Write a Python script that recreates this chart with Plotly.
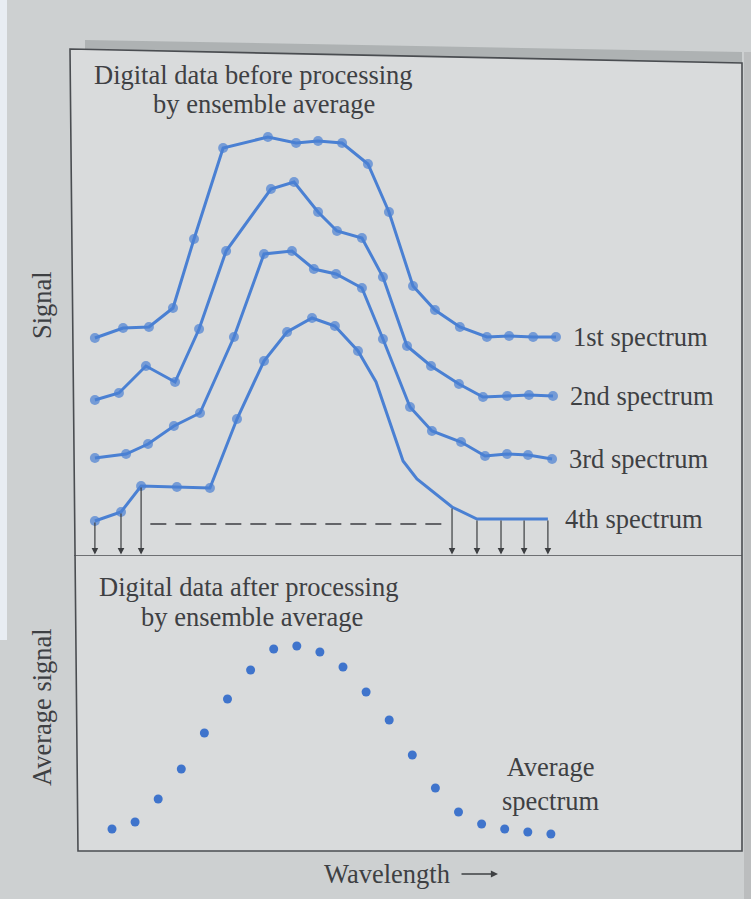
import plotly.graph_objects as go

W, H = 751, 899

# ---- data (wavelength index, signal in arbitrary units) ----
s1_x = [-0.74, 0.48, 1.60, 2.64, 3.55, 4.81, 6.75, 7.97, 8.92, 9.96, 11.08, 11.99, 13.03, 13.98, 15.06, 16.23, 17.19, 18.23, 19.22]
s1_y = [21.8, 22.8, 22.9, 24.8, 31.7, 40.8, 41.9, 41.3, 41.5, 41.3, 39.2, 34.4, 27.0, 24.6, 22.9, 21.9, 22.0, 21.9, 21.9]

s2_x = [-0.74, 0.30, 1.47, 2.73, 3.77, 4.94, 6.88, 7.88, 8.92, 9.74, 10.82, 11.73, 12.77, 13.81, 15.02, 16.06, 17.10, 18.05, 19.09]
s2_y = [15.6, 16.3, 19.0, 17.4, 22.7, 30.5, 36.7, 37.4, 34.4, 32.5, 31.8, 27.9, 21.0, 19.0, 17.2, 15.9, 16.0, 16.1, 16.0]

s3_x = [-0.74, 0.61, 1.56, 2.68, 3.81, 5.28, 6.58, 7.79, 8.74, 9.70, 10.82, 11.73, 12.90, 13.85, 15.11, 16.15, 17.10, 18.01, 19.05]
s3_y = [9.8, 10.2, 11.2, 13.0, 14.3, 21.9, 30.2, 30.5, 28.7, 28.2, 26.8, 21.7, 14.9, 12.5, 11.4, 10.0, 10.2, 10.1, 9.7]

s4_x = [-0.74, 0.39, 1.26, 2.81, 4.24, 5.41, 6.58, 7.58, 8.66, 9.65, 10.65, 11.43, 12.60, 13.20, 14.72, 15.80, 16.84, 17.84, 18.87]
s4_y = [3.5, 4.4, 7.0, 6.9, 6.8, 13.7, 19.5, 22.4, 23.8, 23.0, 20.5, 17.4, 9.5, 7.7, 4.9, 3.7, 3.7, 3.7, 3.7]
s4_dotted = [True] * 11 + [False] * 8          # only the first points carry dots
s4_sampled = [0, 1, 2, 14, 15, 16, 17, 18]      # points with sampling arrows

avg_x = list(range(20))
avg_y = [2.2, 2.9, 5.2, 8.2, 11.8, 15.2, 18.1, 20.2, 20.5, 19.9,
         18.4, 15.9, 13.1, 9.6, 6.3, 3.9, 2.7, 2.2, 1.9, 1.7]

spectra_labels = ["1st spectrum", "2nd spectrum", "3rd spectrum", "4th spectrum"]
top_title = ["Digital data before processing", "by ensemble average"]
bottom_title = ["Digital data after processing", "by ensemble average"]
avg_label = "Average<br>spectrum"
x_title = "Wavelength"
y_title_top = "Signal"
y_title_bottom = "Average signal"

# ---- styling ----
BLUE = "#4a80d3"
DOT = "#3f74cc"
INK = "#3e4043"
FONT = "Liberation Serif, Times New Roman, serif"
FS = 26.5


def px(x):
    return x / W


def py(y):
    return 1 - y / H


fig = go.Figure()

series = [(s1_x, s1_y, None), (s2_x, s2_y, None), (s3_x, s3_y, None), (s4_x, s4_y, s4_dotted)]
for (xs, ys, dotted), lab in zip(series, spectra_labels):
    flags = dotted if dotted is not None else [True] * len(xs)
    sizes = [10 if d else 0 for d in flags]
    fig.add_trace(go.Scatter(
        x=xs, y=ys, mode="lines+markers", name=lab,
        line=dict(color=BLUE, width=3),
        marker=dict(color=BLUE, size=sizes, line=dict(width=0)),
        xaxis="x", yaxis="y", showlegend=False, hoverinfo="skip"))
    fig.add_annotation(x=xs[-1], y=ys[-1], xref="x", yref="y", text=lab,
                       showarrow=False, xanchor="left", yanchor="middle", xshift=15,
                       font=dict(family=FONT, size=FS, color=INK))

fig.add_trace(go.Scatter(
    x=avg_x, y=avg_y, mode="markers", name="Average spectrum",
    marker=dict(color=DOT, size=9, line=dict(width=0)),
    xaxis="x", yaxis="y2", showlegend=False, hoverinfo="skip"))
fig.add_annotation(x=avg_x[-1], y=avg_y[-1], xref="x", yref="y2", text=avg_label,
                   showarrow=False, yshift=50, xanchor="center", yanchor="middle",
                   font=dict(family=FONT, size=FS, color=INK))

# sampling arrows of the 4th spectrum
for i in s4_sampled:
    fig.add_annotation(x=s4_x[i], y=0.15, ax=s4_x[i], ay=s4_y[i],
                       xref="x", yref="y", axref="x", ayref="y",
                       text="", showarrow=True, arrowhead=2, arrowsize=1.1,
                       arrowwidth=1.2, arrowcolor="#3c3e41", standoff=0, startstandoff=0)


# titles
def note(x, y, text, xanchor="center", **kw):
    fig.add_annotation(x=px(x), y=py(y), xref="paper", yref="paper", text=text,
                       showarrow=False, xanchor=xanchor, yanchor="middle",
                       font=dict(family=FONT, size=FS, color=INK), **kw)


note(92, 75, top_title[0], xanchor="left")
note(151, 104, top_title[1], xanchor="left")
note(97, 587, bottom_title[0], xanchor="left")
note(139, 617, bottom_title[1], xanchor="left")
note(42, 305, y_title_top, textangle=-90)
note(42, 707, y_title_bottom, textangle=-90)
note(322, 874, x_title, xanchor="left")
fig.add_annotation(x=px(498), y=py(874), ax=-38, ay=0,
                   xref="paper", yref="paper", axref="pixel", ayref="pixel",
                   text="", showarrow=True, arrowhead=2, arrowsize=1.1, arrowwidth=1.3,
                   arrowcolor=INK, standoff=0)

shapes = []
# white strip at the far left of the photo
shapes.append(dict(type="rect", xref="paper", yref="paper", x0=0, x1=px(7), y0=py(640), y1=1,
                   fillcolor="#e8edf3", line=dict(width=0), layer="below"))
# shadow above the top edge
shapes.append(dict(type="path", xref="paper", yref="paper",
                   path=f"M {px(85)} {py(40)} L {px(742)} {py(52)} L {px(742)} {py(63)} L {px(85)} {py(49)} Z",
                   fillcolor="rgba(95,100,100,0.28)", line=dict(width=0), layer="below"))
# right dark strip
shapes.append(dict(type="rect", xref="paper", yref="paper", x0=px(744), x1=1, y0=0, y1=py(52),
                   fillcolor="#bbbdbe", line=dict(width=0), layer="below"))
# inner page area + frame
frame = f"M {px(70)} {py(49)} L {px(742)} {py(63)} L {px(742)} {py(851)} L {px(78)} {py(851)} Z"
shapes.append(dict(type="path", xref="paper", yref="paper", path=frame,
                   fillcolor="#d9dbdc", line=dict(width=0), layer="below"))
shapes.append(dict(type="path", xref="paper", yref="paper", path=frame,
                   fillcolor="rgba(0,0,0,0)", line=dict(color="#4a4d51", width=1.6), layer="above"))
# divider between the two panels (baseline of the top panel)
shapes.append(dict(type="line", xref="paper", yref="y", x0=px(74), x1=px(742), y0=0, y1=0,
                   line=dict(color="#4a4d51", width=1.6)))
# dashed "and so on" line between sampling arrows
shapes.append(dict(type="line", xref="x", yref="y",
                   x0=s4_x[2] + 0.4, x1=s4_x[14] - 0.4, y0=3.2, y1=3.2,
                   line=dict(color="#3c3e41", width=1.4, dash="16px,9px")))

fig.update_layout(
    width=W, height=H,
    margin=dict(l=0, r=0, t=0, b=0),
    paper_bgcolor="#cdd0d1",
    plot_bgcolor="rgba(0,0,0,0)",
    shapes=shapes,
    showlegend=False,
    xaxis=dict(range=[-4.848, 27.662], domain=[0, 1], visible=False, fixedrange=True),
    yaxis=dict(range=[0, 55.6], domain=[1 - 556 / H, 1], visible=False, fixedrange=True),
    yaxis2=dict(range=[-4.8, 29.5], domain=[0, 1 - 556 / H], visible=False,
                anchor="x", fixedrange=True),
)

fig.write_html("out.html")
